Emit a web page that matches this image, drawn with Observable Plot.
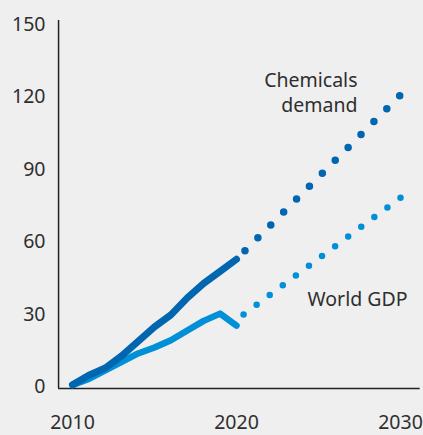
<!DOCTYPE html>
<html>
<head>
<meta charset="utf-8">
<script src="https://cdn.jsdelivr.net/npm/d3@7"></script>
<script src="https://cdn.jsdelivr.net/npm/@observablehq/plot@0.6"></script>
<style>
  html, body { margin: 0; padding: 0; background: #efefef; }
  #chart svg { display: block; }
</style>
</head>
<body>
<div id="chart"></div>
<script>
// Historical data (index growth since 2010, %)
const years = [2010, 2011, 2012, 2013, 2014, 2015, 2016, 2017, 2018, 2019, 2020];
const chemicals = [0, 4, 7, 12, 18, 24, 29, 36, 42, 47, 52];
const gdp = [0, 2.5, 6, 9.5, 13, 15.5, 18.5, 22.5, 26.5, 29.5, 24.5];

// Projections
const projYears = [2020, 2030];
const chemicalsProj = [52, 120];
const gdpProj = [27, 77.5];

// Axis ticks
const yTicks = [0, 30, 60, 90, 120, 150];
const xTicks = [2010, 2020, 2030];

const chemColor = "#0066b0";
const gdpColor = "#0090d8";
const textColor = "#2e2e2e";
const font = "'Noto Sans', 'Open Sans', sans-serif";

const chemHist = years.map((y, i) => ({year: y, value: chemicals[i]}));
const gdpHist = years.map((y, i) => ({year: y, value: gdp[i]}));
const chemP = projYears.map((y, i) => ({year: y, value: chemicalsProj[i]}));
const gdpP = projYears.map((y, i) => ({year: y, value: gdpProj[i]}));

const yBase = -1.5;
const xBase = 2009.15;

const chart = Plot.plot({
  width: 423,
  height: 435,
  marginLeft: 72,
  marginRight: 23,
  marginTop: 22,
  marginBottom: 47,
  style: {background: "#efefef", fontFamily: font, overflow: "visible"},
  x: {domain: [2010, 2030], axis: null},
  y: {domain: [yBase, 150], axis: null},
  marks: [
    // axis lines
    Plot.ruleY([yBase], {x1: xBase, x2: 2031.2, stroke: "#222", strokeWidth: 1.5}),
    Plot.ruleX([xBase], {y1: yBase, y2: 150.8, stroke: "#222", strokeWidth: 1.5}),
    // tick labels
    Plot.text(yTicks, {x: 2010, y: d => d, text: d => String(d), dx: -27, dy: 2, textAnchor: "end", fontSize: 19.5, fill: textColor}),
    Plot.text(xTicks, {x: d => d, y: yBase, text: d => String(d), dy: 34.5, fontSize: 19.5, fill: textColor}),
    // projections (dotted)
    Plot.line(gdpP, {x: "year", y: "value", stroke: gdpColor, strokeWidth: 6.5, strokeLinecap: "round", strokeDasharray: "0 16.3", strokeDashoffset: 7.5}),
    Plot.line(chemP, {x: "year", y: "value", stroke: chemColor, strokeWidth: 7.5, strokeLinecap: "round", strokeDasharray: "0 18.25", strokeDashoffset: 6.25}),
    // history (solid)
    Plot.line(gdpHist, {x: "year", y: "value", stroke: gdpColor, strokeWidth: 6.5, strokeLinecap: "round", strokeLinejoin: "round"}),
    Plot.line(chemHist, {x: "year", y: "value", stroke: chemColor, strokeWidth: 7, strokeLinecap: "round", strokeLinejoin: "round"}),
    // labels
    Plot.text([chemP[1]], {x: "year", y: "value", text: () => "Chemicals\ndemand", textAnchor: "end", lineHeight: 1.28, dx: -43, dy: -3, fontSize: 19.5, fill: textColor}),
    Plot.text([gdpP[1]], {x: "year", y: "value", text: () => "World GDP", textAnchor: "end", dx: 7, dy: 102, fontSize: 19.5, fill: textColor})
  ]
});
document.getElementById("chart").appendChild(chart);
</script>
</body>
</html>
